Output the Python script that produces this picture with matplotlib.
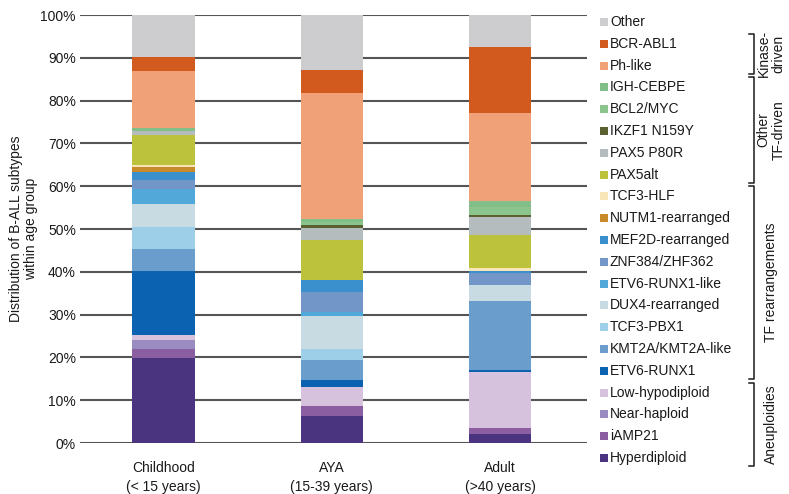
import matplotlib
matplotlib.use('Agg')
import matplotlib.pyplot as plt
from matplotlib.patches import Rectangle
from matplotlib.lines import Line2D
import numpy as np

plt.rcParams['font.family'] = ['Liberation Sans', 'DejaVu Sans']

# ---------------- data (bottom -> top) ----------------
groups = ['Childhood\n(< 15 years)', 'AYA\n(15-39 years)', 'Adult\n(>40 years)']
subtypes = ['Hyperdiploid', 'iAMP21', 'Near-haploid', 'Low-hypodiploid',
            'ETV6-RUNX1', 'KMT2A/KMT2A-like', 'TCF3-PBX1', 'DUX4-rearranged',
            'ETV6-RUNX1-like', 'ZNF384/ZHF362', 'MEF2D-rearranged',
            'NUTM1-rearranged', 'TCF3-HLF', 'PAX5alt', 'PAX5 P80R',
            'IKZF1 N159Y', 'BCL2/MYC', 'IGH-CEBPE', 'Ph-like', 'BCR-ABL1', 'Other']
childhood = [19.8, 2.1, 2.1, 1.3, 14.8, 5.2, 5.1, 5.5, 3.5, 2.1, 1.9, 1.0, 0.6,
             7.0, 0.8, 0.0, 0.0, 0.7, 13.5, 3.1, 9.9]
aya = [6.2, 2.4, 0.0, 4.6, 1.6, 4.5, 2.6, 7.8, 1.0, 4.5, 2.8, 0.0, 0.0,
       9.5, 2.7, 0.8, 0.6, 0.7, 29.4, 5.5, 12.8]
adult = [2.2, 1.3, 0.0, 13.2, 0.3, 16.1, 0.0, 3.9, 0.0, 2.7, 0.4, 0.0, 0.8,
         7.7, 4.3, 0.4, 1.8, 1.5, 20.6, 15.4, 7.4]
colors = ['#4a3480', '#8a5ea0', '#9a8cc0', '#d6c2dc',
          '#0a62b0', '#6a9ccc', '#9ecfe8', '#c8dbe2',
          '#52a8d8', '#7296c8', '#3a90cc',
          '#c88a2a', '#f8e6b8', '#bcc23c', '#b4bcbe',
          '#5a6030', '#8cc48e', '#82be88', '#f0a178', '#d35a1e', '#cdcdcf']
yticks = [0, 10, 20, 30, 40, 50, 60, 70, 80, 90, 100]
brackets = [('Kinase-\ndriven', 'BCR-ABL1', 'Ph-like'),
            ('Other\nTF-driven', 'IGH-CEBPE', 'PAX5alt'),
            ('TF rearrangements', 'TCF3-HLF', 'ETV6-RUNX1'),
            ('Aneuploidies', 'Low-hypodiploid', 'Hyperdiploid')]

TXT = '#1a1a1a'

# ---------------- figure ----------------
W, H = 789, 494
fig = plt.figure(figsize=(W / 100, H / 100), dpi=100)


def fx(px):
    return px / W


def fy(py):
    return 1 - py / H


ax = fig.add_axes([fx(80), fy(443), fx(587) - fx(80), fy(15) - fy(443)])

x = np.arange(len(groups))
data = np.array([childhood, aya, adult])  # groups x subtypes
bottom = np.zeros(len(groups))
for i, name in enumerate(subtypes):
    vals = data[:, i]
    ax.bar(x, vals, width=0.37, bottom=bottom, color=colors[i],
           linewidth=0, zorder=3)
    bottom += vals

ax.set_xlim(-0.496, 2.517)
ax.set_ylim(0, 100)
ax.set_yticks(yticks)
ax.set_yticklabels([f'{t}%' for t in yticks])
ax.set_xticks(x)
ax.set_xticklabels(groups, linespacing=1.45)
ax.tick_params(axis='both', length=0, labelsize=10, colors=TXT)
ax.tick_params(axis='y', pad=3)
ax.tick_params(axis='x', pad=13)
ax.yaxis.grid(True, color='#555555', linewidth=1.5, zorder=0)
ax.set_axisbelow(True)
for s in ax.spines.values():
    s.set_visible(False)
ax.set_ylabel('Distribution of B-ALL subtypes\nwithin age group', fontsize=10,
              color=TXT, linespacing=1.1)
ax.yaxis.set_label_coords(-0.083, 0.5)

# ---------------- legend (manual) ----------------
legend_order = subtypes[::-1]
row_y = {}
y0, dy = 22.0, 21.8
for k, name in enumerate(legend_order):
    yc = y0 + k * dy
    row_y[name] = yc
    c = colors[subtypes.index(name)]
    fig.add_artist(Rectangle((fx(600), fy(yc + 4)), fx(8), fy(0) - fy(8),
                             transform=fig.transFigure, color=c, linewidth=0))
    fig.text(fx(610), fy(yc), name, fontsize=10, va='center', ha='left',
             color=TXT)

# ---------------- brackets ----------------
for label, top_name, bot_name in brackets:
    ytop = row_y[top_name] - 10
    ybot = row_y[bot_name] + 8
    xb = 754
    fig.add_artist(Line2D([fx(xb - 5), fx(xb), fx(xb), fx(xb - 5)],
                          [fy(ytop), fy(ytop), fy(ybot), fy(ybot)],
                          transform=fig.transFigure, color=TXT, lw=1.1))
    fig.text(fx(771), fy((ytop + ybot) / 2), label, rotation=90, fontsize=10,
             ha='center', va='center', color=TXT, linespacing=1.1)

fig.savefig('out.png', dpi=100)
